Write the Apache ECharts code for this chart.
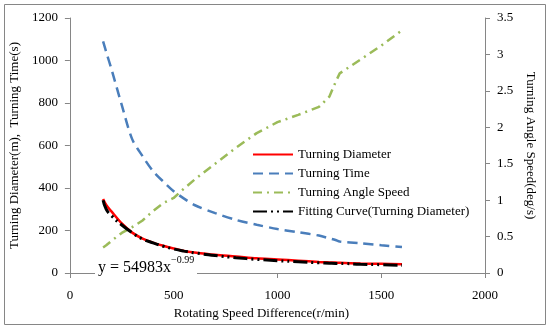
<!DOCTYPE html>
<html><head><meta charset="utf-8">
<script src="https://cdn.jsdelivr.net/npm/echarts@6/dist/echarts.min.js"></script>
<style>html,body{margin:0;padding:0;background:#fff}#c{width:550px;height:331px}</style>
</head><body><div id="c"></div>
<script>
var speeds = [160,175,200,250,300,350,400,450,500,550,600,700,800,900,1000,1100,1200,1250,1280,1300,1400,1500,1600];
var diameter = [348,320,290,233,190,162,143,128,115,104,97,86,78,69,64,58,52,50,49,48,45,43,41];
var turnTime = [1090,1040,960,790,630,550,480,430,385,350,320,282,250,227,207,192,176,163,155,148,140,131,122];
var angleSpeed = [0.35,0.38,0.44,0.55,0.63,0.72,0.85,0.96,1.03,1.16,1.28,1.5,1.72,1.92,2.07,2.17,2.28,2.42,2.62,2.74,2.93,3.12,3.33];
var fitting = [342,300,270,226,190,160,142,126,113,103,95,82,72,64,58,53,48,46,45,45,41,39,36];
var xTicks = [0,500,1000,1500,2000];

function pairs(ys){return speeds.map(function(x,i){return [x,ys[i]];});}
var serif = 'Liberation Serif';
var axisGray = '#868686';
function plain(v){return String(v);}
var chart = echarts.init(document.getElementById('c'));
chart.setOption({
  animation:false,
  textStyle:{fontFamily:serif},
  grid:{left:69,right:65,top:18,bottom:58},
  legend:{
    orient:'vertical', left:252, top:148, padding:0, itemWidth:40, itemHeight:12, itemGap:6,
    itemStyle:{opacity:0},
    textStyle:{fontFamily:serif,fontSize:13,color:'#000'},
    data:['Turning Diameter','Turning Time','Turning Angle Speed','Fitting Curve(Turning Diameter)']
  },
  xAxis:{
    type:'value', min:0, max:2000, interval:500,
    name:'Rotating Speed Difference(r/min)', nameLocation:'middle', nameGap:34,
    nameTextStyle:{fontFamily:serif,fontSize:13,color:'#000',padding:[0,32,0,0]},
    axisLine:{lineStyle:{color:axisGray}}, axisTick:{show:true,length:5,lineStyle:{color:axisGray}},
    axisLabel:{fontFamily:serif,fontSize:13,color:'#000',margin:16,formatter:plain}, splitLine:{show:false}
  },
  yAxis:[{
    type:'value', min:0, max:1200, interval:200, position:'left',
    name:'Turning Diameter(m),  Turning Time(s)', nameLocation:'middle', nameGap:39,
    nameTextStyle:{fontFamily:serif,fontSize:13,color:'#000'},
    axisLine:{show:true,lineStyle:{color:axisGray}}, axisTick:{show:true,length:5,lineStyle:{color:axisGray}},
    axisLabel:{fontFamily:serif,fontSize:13,color:'#000',margin:12,formatter:plain}, splitLine:{show:false}
  },{
    type:'value', min:0, max:3.5, interval:0.5, position:'right',
    name:'Turning Angle Speed(deg/s)', nameLocation:'middle', nameGap:33, nameRotate:-90,
    nameTextStyle:{fontFamily:serif,fontSize:13,color:'#000'},
    axisLine:{show:true,lineStyle:{color:axisGray}}, axisTick:{show:true,length:5,lineStyle:{color:axisGray}},
    axisLabel:{fontFamily:serif,fontSize:13,color:'#000',margin:12,formatter:plain}, splitLine:{show:false}
  }],
  series:[
    {name:'Turning Diameter',type:'line',yAxisIndex:0,data:pairs(diameter),symbol:'none',smooth:0.3,z:3,
     lineStyle:{color:'#FF0000',width:2.5},itemStyle:{color:'#FF0000'}},
    {name:'Turning Time',type:'line',yAxisIndex:0,data:pairs(turnTime),symbol:'none',smooth:0.3,
     lineStyle:{color:'#4A7EBB',width:2.5,type:[10,6]},itemStyle:{color:'#4A7EBB'}},
    {name:'Turning Angle Speed',type:'line',yAxisIndex:1,data:pairs(angleSpeed),symbol:'none',
     lineStyle:{color:'#9BBB59',width:2.5,type:[9,5,2,5]},itemStyle:{color:'#9BBB59'}},
    {name:'Fitting Curve(Turning Diameter)',type:'line',yAxisIndex:0,data:pairs(fitting),symbol:'none',smooth:true,z:4,
     lineStyle:{color:'#000',width:3,type:[14,4,2,4,2,4]},itemStyle:{color:'#000'}}
  ],
  graphic:[
    {type:'rect',shape:{x:4.5,y:4.5,width:541,height:320},style:{fill:'none',stroke:axisGray,lineWidth:1},silent:true},
    {type:'rect',shape:{x:95,y:258,width:102,height:22},style:{fill:'#fff'},z:100},
    {type:'text',x:98,y:268,z:101,style:{text:'y = 54983x',font:'16px "Liberation Serif"',fill:'#000',verticalAlign:'middle'}},
    {type:'text',x:171,y:260,z:101,style:{text:'\u22120.99',font:'10px "Liberation Serif"',fill:'#000',verticalAlign:'middle'}}
  ]
});
</script></body></html>
